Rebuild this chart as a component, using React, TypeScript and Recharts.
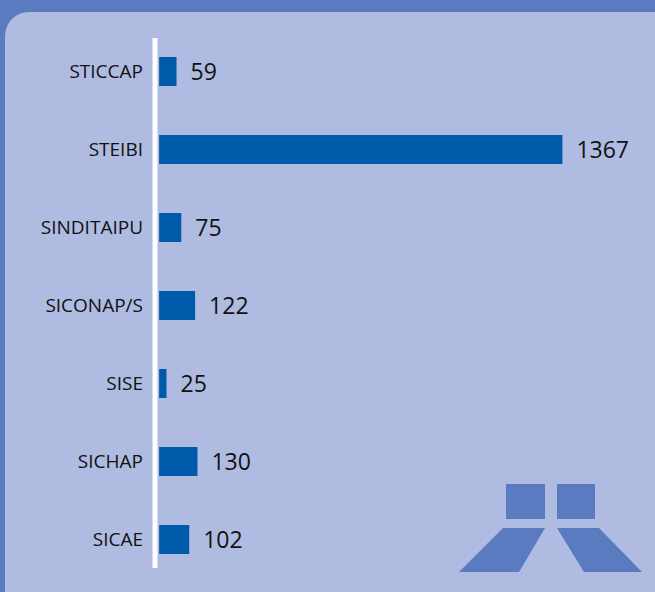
import React from "react";
import { BarChart, Bar, XAxis, YAxis, LabelList } from "recharts";

const categories = ["STICCAP", "STEIBI", "SINDITAIPU", "SICONAP/S", "SISE", "SICHAP", "SICAE"];
const values = [59, 1367, 75, 122, 25, 130, 102];

const data = categories.map((name, i) => ({ name, value: values[i] }));

const FONT = "'Open Sans', 'Noto Sans', sans-serif";

export default function App() {
  return (
    <div
      style={{
        position: "absolute",
        left: 0,
        top: 0,
        width: 655,
        height: 592,
        overflow: "hidden",
        background: "#5a7bbf",
        fontFamily: FONT,
      }}
    >
      <div
        style={{
          position: "absolute",
          left: 5,
          top: 12,
          width: 690,
          height: 605,
          background: "#afbbe1",
          borderRadius: 24,
        }}
      />
      <svg
        width={655}
        height={592}
        style={{ position: "absolute", left: 0, top: 0 }}
      >
        <rect x={506} y={484} width={39} height={35} fill="#5a7bbf" />
        <rect x={557} y={484} width={38} height={35} fill="#5a7bbf" />
        <polygon points="503,528 545,528 519,572 459,572" fill="#5a7bbf" />
        <polygon points="557,528 599,528 642,572 584,572" fill="#5a7bbf" />
      </svg>
      <div style={{ position: "absolute", left: 0, top: 0 }}>
        <BarChart
          width={655}
          height={592}
          data={data}
          layout="vertical"
          margin={{ top: 38, right: 28, bottom: 24, left: 0 }}
        >
          <XAxis type="number" domain={[-14, 1586]} hide />
          <YAxis
            type="category"
            dataKey="name"
            width={155}
            padding={{ top: -6, bottom: -10 }}
            axisLine={{ stroke: "#ffffff", strokeWidth: 5 }}
            tickLine={false}
            tickSize={0}
            tickMargin={12}
            tick={{ fill: "#111111", fontSize: 19, fontFamily: FONT }}
            interval={0}
          />
          <Bar dataKey="value" fill="#005aaa" barSize={29} isAnimationActive={false}>
            <LabelList
              dataKey="value"
              position="right"
              offset={14}
              fill="#111111"
              fontSize={23}
              fontFamily={FONT}
            />
          </Bar>
        </BarChart>
      </div>
    </div>
  );
}
